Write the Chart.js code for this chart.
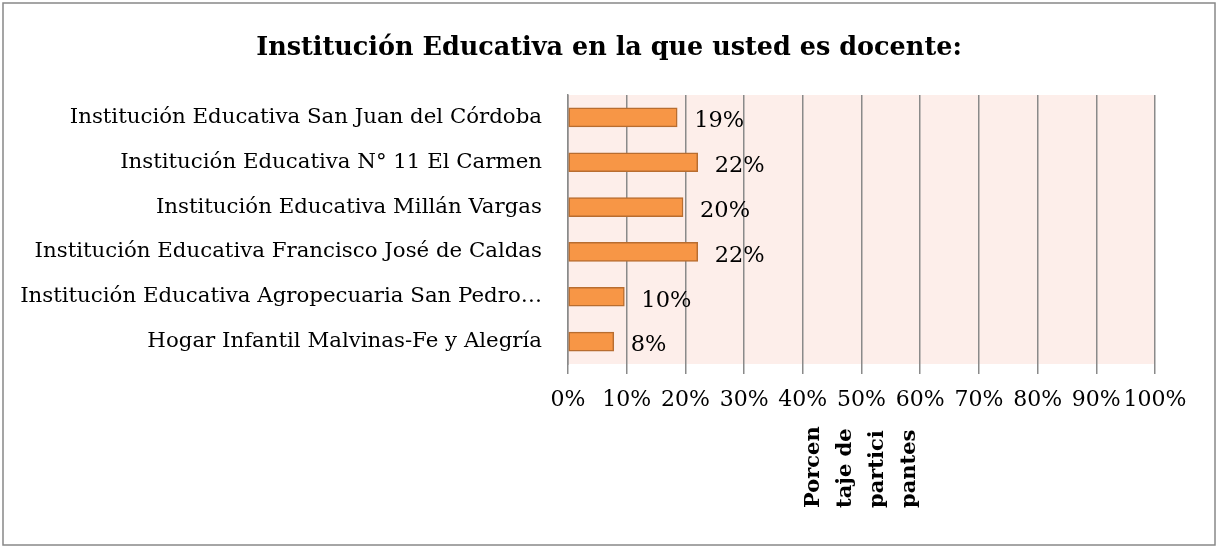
<!DOCTYPE html>
<html>
<head>
<meta charset="utf-8">
<script src="https://cdn.jsdelivr.net/npm/chart.js@4.4.0/dist/chart.umd.min.js"></script>
<style>
  html, body { margin: 0; padding: 0; background: #fff; }
  #wrap { width: 1218px; height: 548px; }
</style>
</head>
<body>
<div id="wrap"><canvas id="myChart" width="1218" height="548"></canvas></div>
<script>
var chartTitle = 'Institución Educativa en la que usted es docente:';
var categories = [
    'Institución Educativa San Juan del Córdoba',
    'Institución Educativa N° 11 El Carmen',
    'Institución Educativa Millán Vargas',
    'Institución Educativa Francisco José de Caldas',
    'Institución Educativa Agropecuaria San Pedro…',
    'Hogar Infantil Malvinas-Fe y Alegría'
];
var percentValues = [18.6, 22.1, 19.6, 22.1, 9.6, 7.8];
var valueLabels = ['19%', '22%', '20%', '22%', '10%', '8%'];
var axisTitleLines = ['Porcen', 'taje de', 'partici', 'pantes'];

var serif = '"DejaVu Serif", "Liberation Serif", serif';

var chartDecor = {
    id: 'chartDecor',
    beforeDraw: function (chart) {
        var c = chart.ctx, a = chart.chartArea;
        c.save();
        c.fillStyle = '#fdeeea';
        c.fillRect(a.left, a.top, a.right - a.left, a.bottom - a.top);
        c.restore();
    },
    afterDraw: function (chart) {
        var c = chart.ctx, a = chart.chartArea;
        var meta = chart.getDatasetMeta(0);
        c.save();
        // title
        c.fillStyle = '#000';
        c.font = 'bold 25.5px ' + serif;
        c.textAlign = 'center';
        c.textBaseline = 'middle';
        c.fillText(chartTitle, chart.width / 2, 48);
        // value labels
        c.font = '22.5px ' + serif;
        c.textAlign = 'left';
        meta.data.forEach(function (bar, i) {
            c.fillText(valueLabels[i], bar.x + 17, bar.y + 4);
        });
        // rotated axis title
        c.font = 'bold 21px ' + serif;
        var mid = (a.left + a.right) / 2;
        var step = 32;
        axisTitleLines.forEach(function (line, i) {
            c.save();
            c.translate(mid + (i - 1.5) * step, a.bottom + 144);
            c.rotate(-Math.PI / 2);
            c.fillText(line, 0, 0);
            c.restore();
        });
        // outer frame
        c.strokeStyle = '#888';
        c.lineWidth = 1.5;
        c.strokeRect(3, 3, chart.width - 6, chart.height - 6);
        c.restore();
    }
};

var ctx = document.getElementById('myChart').getContext('2d');
var myChart = new Chart(ctx, {
    type: 'bar',
    data: {
        labels: categories,
        datasets: [{
            data: percentValues,
            backgroundColor: '#f79646',
            borderColor: '#b86d30',
            borderWidth: 1.5,
            borderSkipped: false,
            barThickness: 19
        }]
    },
    options: {
        indexAxis: 'y',
        responsive: false,
        animation: false,
        layout: { padding: { left: 5, right: 63, top: 95, bottom: 0 } },
        plugins: {
            legend: { display: false },
            tooltip: { enabled: false },
            title: { display: false }
        },
        scales: {
            x: {
                min: 0,
                max: 100,
                ticks: {
                    stepSize: 10,
                    autoSkip: false,
                    color: '#000',
                    font: { family: serif, size: 22 },
                    padding: 13,
                    maxRotation: 0,
                    callback: function (v) { return v + '%'; }
                },
                grid: { color: '#8a8a8a', lineWidth: 1.5, tickLength: 10 },
                border: { display: false },
                afterFit: function (s) { s.height = 184; }
            },
            y: {
                ticks: {
                    color: '#000',
                    font: { family: serif, size: 21.3 },
                    padding: 18
                },
                grid: { display: false },
                border: { color: '#8a8a8a', width: 1.5 },
                afterFit: function (s) { s.width = 563; }
            }
        }
    },
    plugins: [chartDecor]
});
</script>
</body>
</html>
